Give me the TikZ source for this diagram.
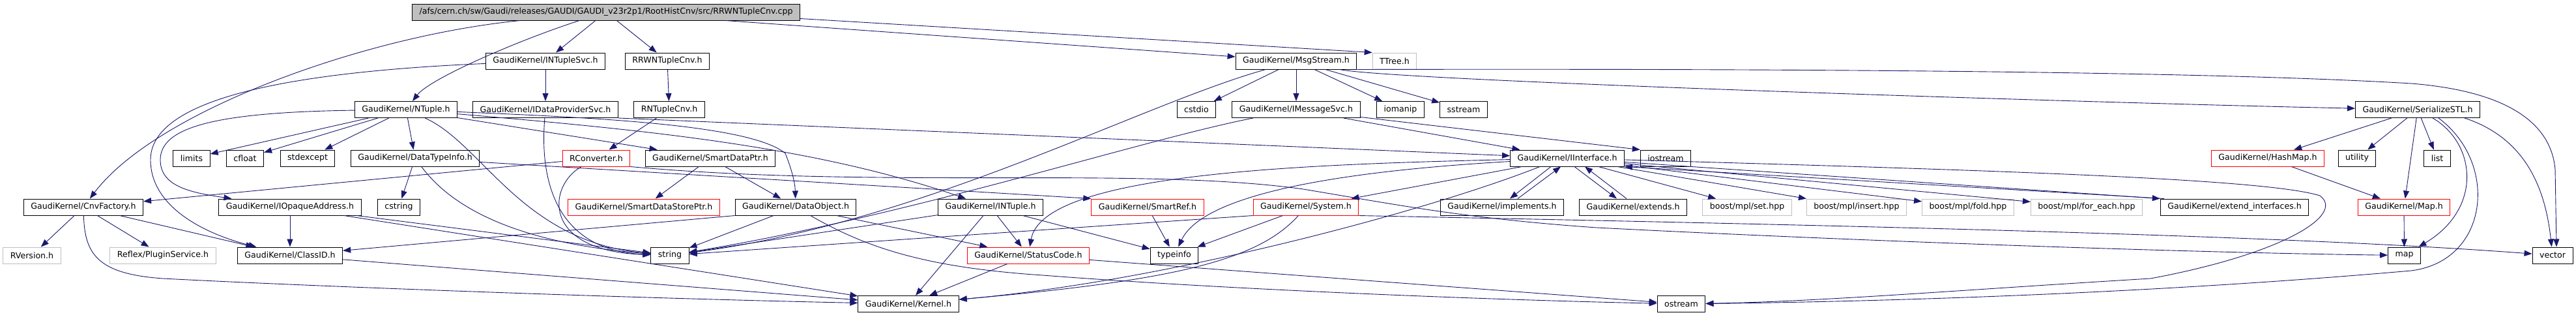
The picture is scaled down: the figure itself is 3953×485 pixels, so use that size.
\documentclass[tikz,border=0pt]{standalone}
\usepackage{fontspec}
\setmainfont{DejaVu Sans}
\usetikzlibrary{arrows.meta}
\definecolor{edgeblue}{HTML}{191970}
\definecolor{grey75}{HTML}{BFBFBF}
\begin{document}
\begin{tikzpicture}[->,>={Triangle[length=12pt,width=9pt]},x=1pt,y=-1pt,font=\fontsize{12.6}{15}\selectfont,
    hfile/.style={draw=black,line width=1pt,inner xsep=11pt,inner ysep=0pt,minimum height=25pt},
    hred/.style={hfile,draw=red},hext/.style={hfile,draw=grey75},
    dep/.style={draw=edgeblue,line width=0.9pt}]
\useasboundingbox(0,0)rectangle(3953,485);
\node[hfile,fill=grey75](rt)at(930,18.5){/afs/cern.ch/sw/Gaudi/releases/GAUDI/GAUDI\_v23r2p1/RootHistCnv/src/RRWNTupleCnv.cpp};
\node[hfile](intsvc)at(837,93.5){GaudiKernel/INTupleSvc.h};
\node[hfile](rrwcnv)at(1024,93.5){RRWNTupleCnv.h};
\node[hfile](msg)at(1989,93.5){GaudiKernel/MsgStream.h};
\node[hext](ttree)at(2140,93.5){TTree.h};
\node[hfile](ntuple)at(623,168){GaudiKernel/NTuple.h};
\node[hfile](idps)at(837,168){GaudiKernel/IDataProviderSvc.h};
\node[hfile](rncnv)at(1027,168){RNTupleCnv.h};
\node[hfile](cstdio)at(1836,168){cstdio};
\node[hfile](imsg)at(1989,168){GaudiKernel/IMessageSvc.h};
\node[hfile](iomanip)at(2149,168){iomanip};
\node[hfile](sstream)at(2246,168){sstream};
\node[hfile](serstl)at(3710,168){GaudiKernel/SerializeSTL.h};
\node[hfile](limits)at(294,242.5){limits};
\node[hfile](cfloat)at(376,242.5){cfloat};
\node[hfile](stdexcept)at(472,242.5){stdexcept};
\node[hfile](dtinfo)at(637,242.5){GaudiKernel/DataTypeInfo.h};
\node[hred](rconv)at(915,242.5){RConverter.h};
\node[hfile](sdptr)at(1090,242.5){GaudiKernel/SmartDataPtr.h};
\node[hfile](iiface)at(2405,242.5){GaudiKernel/IInterface.h};
\node[hfile](iostream)at(2556,242.5){iostream};
\node[hred](hashmap)at(3480,242.5){GaudiKernel/HashMap.h};
\node[hfile](utility)at(3617,242.5){utility};
\node[hfile](list)at(3740,242.5){list};
\node[hfile](cnvf)at(128,317.5){GaudiKernel/CnvFactory.h};
\node[hfile](iopaque)at(445,317.5){GaudiKernel/IOpaqueAddress.h};
\node[hfile](cstring)at(612,317.5){cstring};
\node[hred](sdsptr)at(988,317.5){GaudiKernel/SmartDataStorePtr.h};
\node[hfile](dataobj)at(1221,317.5){GaudiKernel/DataObject.h};
\node[hfile](intuple)at(1520,317.5){GaudiKernel/INTuple.h};
\node[hred](smartref)at(1761,317.5){GaudiKernel/SmartRef.h};
\node[hred](system)at(2004,317.5){GaudiKernel/System.h};
\node[hfile](impl)at(2305,317.5){GaudiKernel/implements.h};
\node[hfile](extends)at(2506,317.5){GaudiKernel/extends.h};
\node[hext](mplset)at(2681,317.5){boost/mpl/set.hpp};
\node[hext](mplins)at(2849,317.5){boost/mpl/insert.hpp};
\node[hext](mplfold)at(3020,317.5){boost/mpl/fold.hpp};
\node[hext](mplfe)at(3202,317.5){boost/mpl/for\_each.hpp};
\node[hfile](extif)at(3429,317.5){GaudiKernel/extend\_interfaces.h};
\node[hred](maph)at(3689,317.5){GaudiKernel/Map.h};
\node[hext](rversion)at(49,391.5){RVersion.h};
\node[hext](plugin)at(250,391.5){Reflex/PluginService.h};
\node[hfile](classid)at(445,391.5){GaudiKernel/ClassID.h};
\node[hfile](string)at(1028,391.5){string};
\node[hred](statuscode)at(1578,391.5){GaudiKernel/StatusCode.h};
\node[hfile](typeinfo)at(1802,391.5){typeinfo};
\node[hfile](map)at(3689.5,391.5){map};
\node[hfile](vector)at(3917,391.5){vector};
\node[hfile](kernel)at(1394,466){GaudiKernel/Kernel.h};
\node[hfile](ostream)at(2580,466){ostream};

\draw[dep](rt).. controls(560,55)and(240,170)..(cnvf);
\draw[dep](rt).. controls(800,60)and(660,120)..(ntuple);
\draw[dep](rt)--(intsvc);
\draw[dep](rt)--(rrwcnv);
\draw[dep](rt)--(msg);
\draw[dep]([yshift=-10pt]rt.east)--(ttree.north west);
\draw[dep](intsvc)--(idps);
\draw[dep](intsvc).. controls(450,110)and(231,150)..(231,245).. controls(231,320)and(320,360)..(classid);
\draw[dep](rrwcnv)--(rncnv);
\draw[dep](rncnv)--(rconv);
\draw[dep](ntuple).. controls(330,172)and(246,195)..(246,245).. controls(246,285)and(290,295)..(iopaque);
\draw[dep](ntuple)--(limits);
\draw[dep](ntuple)--(cfloat);
\draw[dep](ntuple)--(stdexcept);
\draw[dep](ntuple)--(dtinfo);
\draw[dep](ntuple).. controls(740,220)and(800,370)..(string);
\draw[dep](ntuple)--(sdptr);
\draw[dep](ntuple).. controls(900,180)and(1150,190)..(1205,235).. controls(1215,260)and(1220,280)..(dataobj);
\draw[dep](ntuple).. controls(1000,200)and(1250,225)..(intuple);
\draw[dep](idps).. controls(826,300)and(870,385)..(string);
\draw[dep](idps.south east)--(iiface);
\draw[dep](rconv)--(cnvf);
\draw[dep](rconv).. controls(840,285)and(830,385)..(string);
\draw[dep](rconv.south east).. controls(1350,290)and(1750,255)..(2000,290).. controls(2150,315)and(2250,335)..(2450,349).. controls(2900,372)and(3400,388)..(map);
\draw[dep](msg)--(imsg);
\draw[dep](msg)--(iomanip);
\draw[dep](msg)--(sstream);
\draw[dep](msg)--(cstdio);
\draw[dep](msg).. controls(1750,160)and(1420,340)..(string);
\draw[dep](msg).. controls(2150,125)and(3300,160)..(serstl);
\draw[dep](msg.south east).. controls(2800,105)and(3400,110)..(3700,128).. controls(3850,140)and(3915,190)..(3921,260)--([xshift=6pt]vector.north);
\draw[dep](imsg)--(iiface);
\draw[dep](imsg)--(iostream.north west);
\draw[dep](imsg).. controls(1750,215)and(1400,330)..(string);
\draw[dep](dtinfo)--(cstring);
\draw[dep](dtinfo).. controls(680,300)and(760,370)..(string);
\draw[dep](dtinfo)--(smartref.north west);
\draw[dep](sdptr)--(sdsptr);
\draw[dep](sdptr)--(dataobj);
\draw[dep](cnvf)--(rversion);
\draw[dep](cnvf)--(plugin);
\draw[dep](cnvf)--(classid);
\draw[dep](cnvf).. controls(130,390)and(150,420)..(250,427).. controls(500,440)and(1000,458)..(kernel);
\draw[dep](iopaque)--(classid);
\draw[dep](iopaque)--(string);
\draw[dep](iopaque)--(kernel);
\draw[dep](classid)--(kernel);
\draw[dep](dataobj.south west)--(classid);
\draw[dep](dataobj)--(string);
\draw[dep](dataobj)--(statuscode);
\draw[dep](dataobj).. controls(1330,380)and(1420,410)..(1600,422).. controls(1900,445)and(2300,460)..(ostream);
\draw[dep](intuple)--(kernel);
\draw[dep](intuple)--(statuscode);
\draw[dep](intuple)--(typeinfo);
\draw[dep](intuple)--(string);
\draw[dep](smartref)--(typeinfo);
\draw[dep](system)--(typeinfo);
\draw[dep](system).. controls(1930,400)and(1800,430)..(kernel);
\draw[dep](system.south west)--(string);
\draw[dep](system.south east).. controls(2800,345)and(3500,360)..(vector);
\draw[dep](statuscode)--(kernel);
\draw[dep](statuscode)--(ostream);
\draw[dep](iiface).. controls(2000,252)and(1600,265)..(statuscode);
\draw[dep]([xshift=-42pt]iiface.south).. controls(2200,320)and(1800,430)..(kernel);
\draw[dep](iiface).. controls(2100,260)and(1850,290)..(typeinfo);
\draw[dep](iiface)--(system);
\draw[dep]([xshift=-25pt]iiface.south)--([xshift=12pt]impl.north);
\draw[dep]([xshift=24pt]impl.north)--([xshift=-10pt]iiface.south);
\draw[dep]([xshift=11pt]iiface.south)--([xshift=-25pt]extends.north);
\draw[dep]([xshift=-10pt]extends.north)--([xshift=27pt]iiface.south);
\draw[dep](iiface)--(mplset);
\draw[dep](iiface)--(mplins);
\draw[dep](iiface)--(mplfold);
\draw[dep](iiface)--(mplfe);
\draw[dep](iiface)--(extif.north west);
\draw[dep]([xshift=6pt]extif.north west)--(iiface.south east);
\draw[dep](iiface).. controls(3100,262)and(3480,275)..(3560,300).. controls(3600,330)and(3500,390)..(3300,427).. controls(3000,445)and(2800,462)..(ostream);
\draw[dep](serstl)--(hashmap);
\draw[dep](serstl)--(utility);
\draw[dep](serstl)--(maph);
\draw[dep](serstl)--(list);
\draw[dep]([xshift=23pt]serstl.south).. controls(3800,220)and(3810,320)..(map);
\draw[dep]([xshift=32pt]serstl.south).. controls(3835,250)and(3820,400)..(3700,415).. controls(3300,450)and(2900,462)..(ostream);
\draw[dep]([xshift=72pt]serstl.south).. controls(3870,210)and(3905,280)..(vector);
\draw[dep](hashmap)--(maph);
\draw[dep](maph)--(map);
\end{tikzpicture}
\end{document}
